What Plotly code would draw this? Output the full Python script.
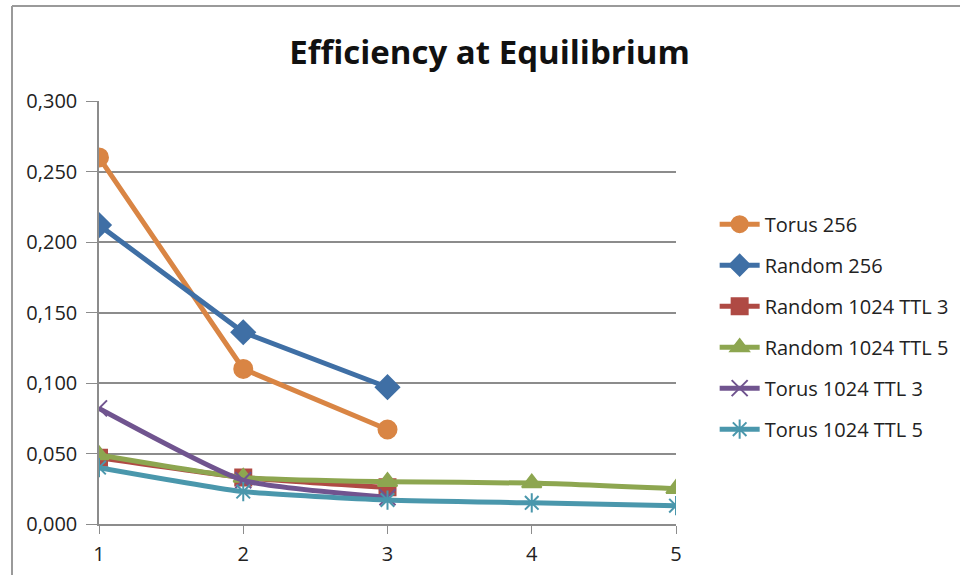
import plotly.graph_objects as go

# x positions shared by all series
steps = [1, 2, 3, 4, 5]

torus_256 = [0.260, 0.110, 0.067]
random_256 = [0.212, 0.136, 0.097]
random_1024_ttl3 = [0.047, 0.033, 0.026]
random_1024_ttl5 = [0.049, 0.033, 0.030, 0.029, 0.025]
torus_1024_ttl3 = [0.082, 0.031, 0.019]
torus_1024_ttl5 = [0.040, 0.023, 0.017, 0.015, 0.013]

series = [
    ("Torus 256", torus_256, "#D98544", "circle", 18, "linear"),
    ("Random 256", random_256, "#3F6FA5", "diamond", 18, "linear"),
    ("Random 1024 TTL 3", random_1024_ttl3, "#AF4A44", "square", 16, "spline"),
    ("Random 1024 TTL 5", random_1024_ttl5, "#8DA650", "triangle-up", 17, "spline"),
    ("Torus 1024 TTL 3", torus_1024_ttl3, "#70548F", "x-thin-open", 16, "spline"),
    ("Torus 1024 TTL 5", torus_1024_ttl5, "#4A97AC", "asterisk-open", 16, "spline"),
]

fig = go.Figure()
for i, (name, vals, color, symbol, size, shape) in enumerate(series):
    fig.add_trace(go.Scatter(
        x=steps[:len(vals)], y=vals, name=name, mode="lines+markers",
        line=dict(color=color, width=5, shape=shape, smoothing=0.5),
        marker=dict(symbol=symbol, size=size, color=color,
                    line=dict(color=color, width=2)),
        legendgroup=f"g{i}",
    ))

grid = "#8C8C8C"
border = "#9A9A9A"
fig.update_layout(
    width=960, height=575,
    margin=dict(l=99, r=284, t=101, b=51, autoexpand=False),
    paper_bgcolor="white", plot_bgcolor="white",
    separators=",.",
    font=dict(family="Open Sans", size=20, color="#222222"),
    title=dict(text="<b>Efficiency at Equilibrium</b>", x=0.51, xanchor="center",
               y=0.909, yanchor="middle",
               font=dict(family="Open Sans", size=33, color="#111111")),
    xaxis=dict(range=[1, 5], tickvals=steps, ticks="outside", ticklen=8,
               tickcolor=grid, showgrid=False, zeroline=False,
               showline=True, linecolor=grid, linewidth=1.5,
               tickfont=dict(size=20), ticklabelstandoff=3, automargin=False),
    yaxis=dict(range=[0, 0.3], dtick=0.05, tickformat=".3f", ticks="outside",
               ticklen=11, tickcolor=grid, showgrid=True, gridcolor=grid,
               gridwidth=1.5, zeroline=False, showline=True, linecolor=grid,
               linewidth=1.5, tickfont=dict(size=20), ticklabelstandoff=5,
               automargin=False),
    legend=dict(x=1.067, y=0.755, xanchor="left", yanchor="top",
                tracegroupgap=12, font=dict(size=20, color="#222222"),
                itemwidth=40),
    shapes=[
        # outer chart frame: top and left edges
        dict(type="line", xref="paper", yref="paper",
             x0=(12 - 99) / 577, x1=(960 - 99) / 577,
             y0=(524 - 6) / 423, y1=(524 - 6) / 423,
             line=dict(color=border, width=2)),
        dict(type="line", xref="paper", yref="paper",
             x0=(12 - 99) / 577, x1=(12 - 99) / 577,
             y0=(524 - 6) / 423, y1=(524 - 580) / 423,
             line=dict(color=border, width=2)),
    ],
)

fig.write_html("out.html")
